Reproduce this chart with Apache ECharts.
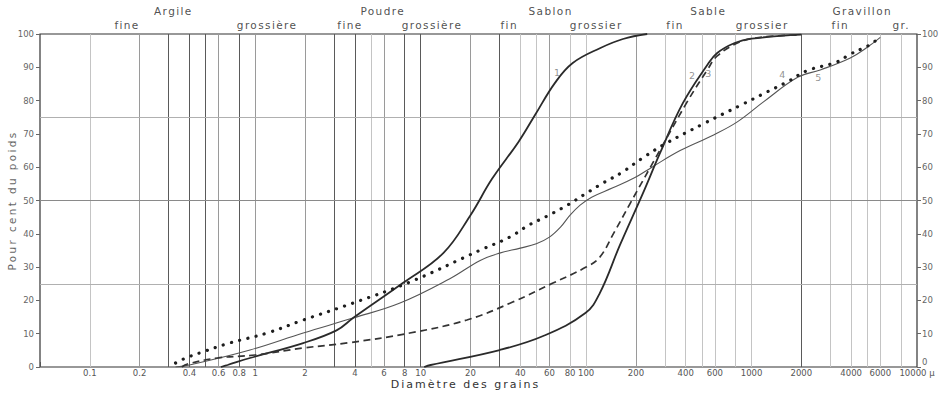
<!DOCTYPE html>
<html>
<head>
<meta charset="utf-8">
<script src="https://cdn.jsdelivr.net/npm/echarts@6/dist/echarts.min.js"></script>
<style>
html, body { margin: 0; padding: 0; background: #fff; }
#main { width: 946px; height: 396px; }
</style>
</head>
<body>
<div id="main"></div>
<script>
// courbes granulométriques : [diamètre en µ, % cumulé du poids]
const curve1 = [[0.62, 0], [0.68, 0.6], [0.93, 2.7], [1.95, 7.2], [3.1, 11], [3.9, 14.7], [7.8, 25.2], [13.7, 34.2],
  [20, 45.6], [27, 56.5], [39, 67.6], [49, 75.6], [65, 85.4], [83, 91.3], [122, 95.8], [167, 98.5], [234, 100]]
const curve2 = [[10.5, 0], [11.5, 0.6], [30, 5.1], [55, 9.3], [99, 16.2], [121, 22.2], [160, 36.6], [221, 52.3],
  [280, 64.3], [385, 79.3], [540, 90.7], [620, 94.3], [790, 97.3], [1000, 98.6], [2000, 99.8]]
const curve3 = [[0.36, 0], [0.39, 0.9], [0.59, 2.7], [1, 3.6], [1.95, 5.7], [3.7, 7.3], [8.6, 10.2], [19, 14.1],
  [36, 19.5], [63, 25.2], [100, 30], [121, 33], [148, 40.5], [184, 49], [280, 65.2], [408, 79.6], [540, 89.2],
  [620, 93.4], [850, 97.6], [1130, 99], [1900, 99.7]]
const curve4 = [[0.33, 1.2], [0.38, 2.7], [0.48, 4.5], [0.7, 7.2], [1.18, 10.2], [1.95, 14.1], [3.9, 19.2],
  [8.6, 25.5], [22.9, 35.1], [34.5, 39], [45, 42.6], [58, 45.3], [77, 48.6], [99, 52], [127, 55.3], [163, 58.3],
  [220, 62.8], [300, 67], [510, 73], [850, 78.5], [1240, 82.6], [1640, 85.6], [2170, 89], [3280, 91.6],
  [3900, 93.8], [4600, 95.5], [5400, 97.3], [6000, 99.5]]
const curve5 = [[0.33, 0], [0.4, 0.6], [0.93, 5.1], [1.95, 10.2], [3.9, 14.7], [7.5, 19.2], [15, 26.5], [22.9, 32],
  [30, 34.2], [40, 35.7], [50, 37], [60, 39], [70, 42], [80, 45.6], [92, 48.6], [108, 51], [145, 53.8],
  [196, 56.8], [250, 60], [370, 65], [590, 69.7], [820, 73.6], [1180, 79.6], [1900, 87], [2600, 89.2],
  [3950, 92.8], [5000, 96], [6000, 99]]

// numéros des courbes : [diamètre, %]
const curveNames = ['1', '2', '3', '4', '5']
const curveNameAt = [[66.8, 88.3], [437, 87.4], [547, 88], [1531, 87.7], [2529, 86.8]]

// axe des diamètres
const xLabelValues = [0.1, 0.2, 0.4, 0.6, 0.8, 1, 2, 4, 6, 8, 10, 20, 40, 60, 80, 100, 200, 400, 600, 1000,
  2000, 4000, 6000, 10000]
const classBoundaries = [0.05, 0.6, 2, 20, 200, 2000, 6000]
const gridDark = [0.3, 0.4, 0.5, 0.8, 3, 4, 8, 10, 30, 2000]
const gridMid = [0.2, 0.6, 1, 2, 6, 20, 60, 200]
const gridLight = [0.1, 5, 40, 50, 80, 100, 300, 400, 500, 600, 800, 1000, 3000, 4000, 5000, 6000, 8000]
const hGridMid = [50]
const hGridLight = [25, 75]

// classes granulométriques
const zoneNames = ['Argile', 'Poudre', 'Sablon', 'Sable', 'Gravillon']
const zoneCenters = [0.32, 5.9, 61, 547, 4670]
const subNames = ['fine', 'grossière', 'fine', 'grossière', 'fin', 'grossier', 'fin', 'grossier', 'fin', 'gr.']
const subCenters = [0.168, 1.18, 3.74, 11.7, 34.3, 115, 345, 1159, 3440, 8030]

const FONT = 'DejaVu Sans'
const chart = echarts.init(document.getElementById('main'), null, { renderer: 'svg' })

// espacement des lettres des titres, comme sur le dessin original
const spacing = { '10.5px': '1.4px', '11px': '2px', '10.4px': '2.4px' }
chart.on('finished', () => {
  document.querySelectorAll('#main text').forEach(t => {
    const sp = spacing[getComputedStyle(t).fontSize]
    if (sp) t.setAttribute('letter-spacing', sp)
  })
})

const vLines = (list, color) => list.map(v => ({ xAxis: v, lineStyle: { color, width: 1, type: 'solid' } }))
const hLines = (list, color) => list.map(v => ({ yAxis: v, lineStyle: { color, width: 1, type: 'solid' } }))

const curve = (name, data, lineStyle) => ({
  name, type: 'line', data, showSymbol: false, symbol: 'none', smooth: 0.4, silent: true, z: 5, lineStyle
})

const textPoints = (names, at, y) => names.map((n, i) => ({ name: n, value: y === undefined ? at[i] : [at[i], y] }))

const yAxisBase = {
  type: 'value', min: 0, max: 100, interval: 10,
  axisLine: { show: false },
  axisTick: { show: true, length: 4, lineStyle: { color: '#666' } },
  axisLabel: { fontFamily: FONT, fontSize: 8.5, color: '#666', margin: 6 },
  splitLine: { show: false }
}

const option = {
  animation: false,
  grid: {
    left: 40, right: 29, top: 34, bottom: 29, show: true, borderColor: '#333', borderWidth: 1.2,
    containLabel: false, outerBoundsMode: 'none'
  },
  xAxis: [{
    type: 'log', logBase: 10, min: 0.05, max: 10000,
    name: 'Diamètre des grains', nameLocation: 'middle', nameGap: 12, nameMoveOverlap: false,
    nameTextStyle: { fontFamily: FONT, fontSize: 11, color: '#333', padding: [0, 26, 0, 0] },
    axisLine: { show: false },
    axisTick: { show: false },
    splitLine: { show: false },
    minorSplitLine: { show: false },
    axisLabel: {
      customValues: xLabelValues, fontFamily: FONT, fontSize: 8.5, color: '#555', margin: 1,
      formatter: v => { const s = String(Number(Number(v).toPrecision(6))); return s === '10000' ? '10000 µ' : s }
    }
  }, {
    type: 'log', logBase: 10, min: 0.05, max: 10000, position: 'top',
    axisLine: { show: false },
    axisLabel: { show: false },
    splitLine: { show: false },
    axisTick: { show: true, customValues: classBoundaries, length: 5, lineStyle: { color: '#555' } }
  }],
  yAxis: [
    Object.assign({}, yAxisBase, {
      position: 'left', name: 'Pour cent du poids', nameLocation: 'middle', nameGap: 23, nameRotate: 90,
      nameMoveOverlap: false,
      nameTextStyle: { fontFamily: FONT, fontSize: 10.4, color: '#666' }
    }),
    Object.assign({}, yAxisBase, {
      position: 'right',
      axisLabel: Object.assign({}, yAxisBase.axisLabel, {
        margin: 5,
        // le 0 de droite est remonté au-dessus du « 10000 µ »
        formatter: v => v === 0 ? '{z|0}' : String(v),
        rich: { z: { fontFamily: FONT, fontSize: 8.5, color: '#666', padding: [0, 0, 10, 0] } }
      })
    })
  ],
  series: [
    {
      type: 'line', data: [], silent: true, z: 1,
      markLine: {
        symbol: 'none', silent: true, label: { show: false }, animation: false,
        data: [].concat(
          vLines(gridLight, '#c4c4c4'), vLines(gridMid, '#9a9a9a'), vLines(gridDark, '#5a5a5a'),
          hLines(hGridLight, '#b0b0b0'), hLines(hGridMid, '#8a8a8a')
        )
      }
    },
    curve('5', curve5, { color: '#555', width: 1.1 }),
    curve('1', curve1, { color: '#2a2a2a', width: 1.8 }),
    curve('2', curve2, { color: '#2a2a2a', width: 1.8 }),
    curve('3', curve3, { color: '#333', width: 1.7, type: [7, 4.5] }),
    curve('4', curve4, { color: '#1e1e1e', width: 3.2, type: [0.1, 8.4], cap: 'round' }),
    {
      type: 'scatter', data: textPoints(curveNames, curveNameAt), symbolSize: 0, silent: true, clip: false, z: 6,
      label: { show: true, position: 'inside', formatter: '{b}', fontFamily: FONT, fontSize: 9.5, color: '#777' }
    },
    {
      type: 'scatter', data: textPoints(zoneNames, zoneCenters, 100), symbolSize: 0, silent: true, clip: false,
      label: { show: true, position: 'top', distance: 17.5, formatter: '{b}', fontFamily: FONT, fontSize: 10.5, color: '#222' }
    },
    {
      type: 'scatter', data: textPoints(subNames, subCenters, 100), symbolSize: 0, silent: true, clip: false,
      label: { show: true, position: 'top', distance: 3.5, formatter: '{b}', fontFamily: FONT, fontSize: 10.5, color: '#222' }
    }
  ]
}

chart.setOption(option)
</script>
</body>
</html>
